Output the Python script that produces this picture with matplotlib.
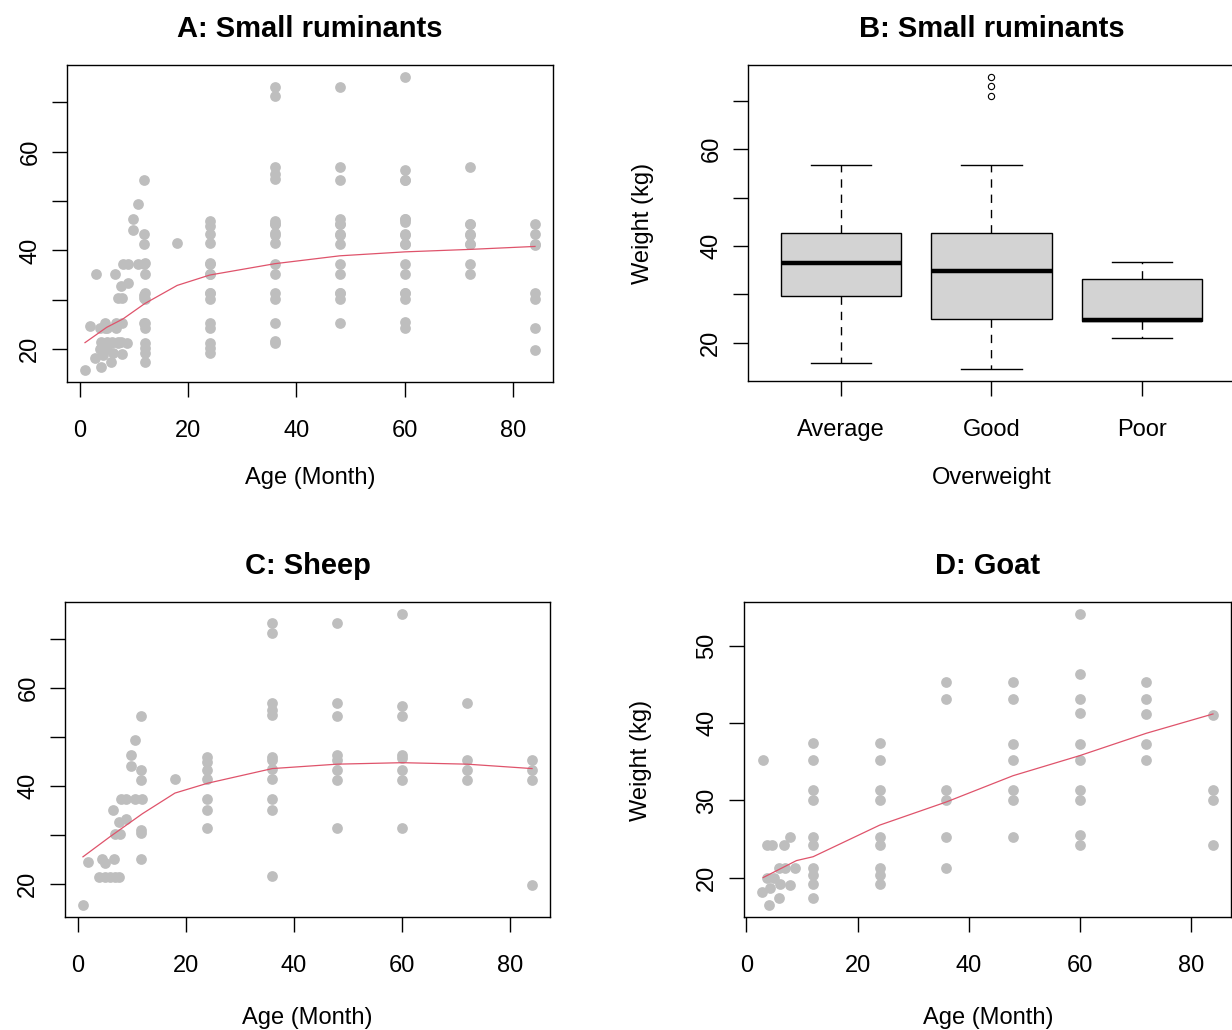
import matplotlib
matplotlib.use("Agg")
import matplotlib.pyplot as plt
import numpy as np

plt.rcParams['font.family'] = ['Liberation Sans', 'DejaVu Sans']

# ---- data ----
# sheep: age (month), weight (kg)
sheep_age = [1, 2, 4, 4.6, 5, 5, 6, 6.5, 6.7, 7, 7, 7.6, 7.6, 7.9, 8,
             8.9, 8.9, 9.8, 9.8, 10.7, 10.7, 11.8, 11.8, 11.8, 11.8, 11.8, 11.8, 11.9,
             18,
             24, 24, 24, 24, 24, 24, 24,
             36, 36, 36, 36, 36, 36, 36, 36, 36, 36, 36, 36,
             48, 48, 48, 48, 48, 48, 48, 48,
             60, 60, 60, 60, 60, 60, 60, 60,
             72, 72, 72, 72,
             84, 84, 84, 84]
sheep_wt = [15.7, 24.6, 21.5, 25.2, 24.3, 21.5, 21.5, 35.2, 25.2, 21.5, 30.3, 21.5, 32.7, 30.3, 37.3,
            37.3, 33.4, 46.3, 44.1, 37.3, 49.4, 54.3, 43.4, 41.2, 31.0, 30.4, 25.2, 37.3,
            41.4,
            46.0, 45.0, 43.4, 41.4, 37.3, 35.2, 31.4,
            73.2, 71.2, 56.9, 55.5, 54.5, 46.0, 45.3, 43.6, 41.4, 37.3, 35.2, 21.6,
            73.2, 57.0, 54.3, 46.3, 45.3, 43.3, 41.2, 31.4,
            75.2, 56.3, 54.3, 46.3, 45.7, 43.3, 41.2, 31.4,
            57.0, 45.4, 43.3, 41.2,
            45.4, 43.3, 41.2, 19.8]

# goat: age (month), weight (kg)
goat_age = [3.0, 4.0, 2.8, 4.3, 3.7, 4.9, 3.7, 4.6, 6.7, 7.9, 5.8, 7.0, 8.8, 6.1, 7.9, 5.8,
            12, 12, 12, 12, 12, 12, 12, 12, 12, 12,
            24, 24, 24, 24, 24, 24, 24, 24, 24,
            36, 36, 36, 36, 36, 36,
            48, 48, 48, 48, 48, 48, 48,
            60, 60, 60, 60, 60, 60, 60, 60, 60, 60,
            72, 72, 72, 72, 72,
            84, 84, 84, 84]
goat_wt = [35.2, 16.4, 18.1, 18.7, 20.0, 20.0, 24.2, 24.2, 24.2, 25.2, 21.3, 21.3, 21.3, 19.2, 19.0, 17.4,
           37.4, 35.3, 31.3, 30.1, 25.2, 24.2, 21.3, 20.3, 19.2, 17.4,
           37.4, 35.3, 31.3, 30.1, 25.2, 24.2, 21.3, 20.3, 19.2,
           45.4, 43.2, 31.3, 30.1, 25.2, 21.3,
           45.4, 43.2, 37.3, 35.3, 31.3, 30.1, 25.2,
           54.2, 46.4, 43.2, 41.3, 37.3, 35.3, 31.3, 30.1, 25.5, 24.2,
           45.4, 43.2, 41.2, 37.3, 35.2,
           41.1, 31.3, 30.1, 24.2]

# smoothed (lowess) curves
all_fit_age = [1, 5, 8, 12, 18, 24, 36, 48, 60, 72, 84]
all_fit_wt = [21.3, 24.4, 26.1, 29.2, 32.9, 35.0, 37.3, 38.9, 39.7, 40.2, 40.8]
sheep_fit_age = [1, 6, 12, 18, 24, 36, 48, 60, 72, 84]
sheep_fit_wt = [25.6, 29.7, 34.4, 38.6, 40.6, 43.6, 44.5, 44.8, 44.5, 43.6]
goat_fit_age = [3, 9, 12, 24, 36, 48, 60, 72, 84]
goat_fit_wt = [20.0, 22.2, 22.7, 26.8, 29.8, 33.2, 35.8, 38.7, 41.2]

# box plot summary: weight by overweight score
ow_groups = ["Average", "Good", "Poor"]
ow_whislo = [15.8, 14.5, 20.9]
ow_q1 = [29.7, 24.8, 24.5]
ow_med = [36.4, 34.9, 24.7]
ow_q3 = [42.6, 42.6, 33.2]
ow_whishi = [56.8, 56.8, 36.6]
ow_fliers = [[], [71.0, 73.0, 75.0], []]

W, H = 1232, 1030
PT_COL = "#BEBEBE"
FIT_COL = "#DF536B"
FS = 17
TFS = 21

fig = plt.figure(figsize=(W / 100, H / 100), dpi=100)


def px_axes(l, t, r, b):
    return fig.add_axes([l / W, 1 - b / H, (r - l) / W, (b - t) / H])


def r_range(vals):
    lo, hi = min(vals), max(vals)
    d = (hi - lo) * 0.04
    return lo - d, hi + d


def style(ax, yticks, ylabels):
    for s in ax.spines.values():
        s.set_linewidth(1.0)
    ax.tick_params(direction='out', length=10.5, width=1.0, labelsize=FS)
    ax.tick_params(axis='x', pad=17)
    ax.tick_params(axis='y', pad=8, labelrotation=90)
    ax.set_yticks(yticks)
    ax.set_yticklabels(ylabels)
    for lab in ax.get_yticklabels():
        lab.set_va('center')


def scatter_panel(ax, x, y, fx, fy, title):
    ax.scatter(x, y, s=60, color=PT_COL, linewidths=0, zorder=2)
    ax.plot(fx, fy, color=FIT_COL, lw=0.9, zorder=3)
    ax.set_xlim(*r_range(x))
    ax.set_ylim(*r_range(y))
    ax.set_xticks([0, 20, 40, 60, 80])
    ax.set_title(title, fontsize=TFS, fontweight='bold', pad=20)


# A: all small ruminants
axA = px_axes(67, 65, 553, 382)
scatter_panel(axA, sheep_age + goat_age, sheep_wt + goat_wt, all_fit_age, all_fit_wt,
              "A: Small ruminants")
style(axA, [20, 30, 40, 50, 60, 70], ["20", "", "40", "", "60", ""])
fig.text(310 / W, 1 - 478 / H, "Age (Month)", ha='center', va='center', fontsize=FS)

# B: box plot
axB = px_axes(748, 65, 1235, 381)
stats = []
for i in range(len(ow_groups)):
    stats.append(dict(label=ow_groups[i], whislo=ow_whislo[i], q1=ow_q1[i], med=ow_med[i],
                      q3=ow_q3[i], whishi=ow_whishi[i], fliers=ow_fliers[i]))
axB.bxp(stats, positions=[1, 2, 3], widths=0.8, capwidths=0.4, patch_artist=True,
        boxprops=dict(facecolor="#D3D3D3", edgecolor="black", linewidth=1.0),
        medianprops=dict(color="black", linewidth=3.2, solid_capstyle='butt'),
        whiskerprops=dict(color="black", linewidth=1.0, linestyle=(0, (6, 5))),
        capprops=dict(color="black", linewidth=1.0),
        flierprops=dict(marker='o', markersize=4.5, markerfacecolor='none',
                        markeredgecolor='black', markeredgewidth=0.8))
all_b = ow_whislo + ow_whishi + sum(ow_fliers, [])
axB.set_xlim(0.38, 3.62)
axB.set_ylim(*r_range(all_b))
axB.set_xticks([1, 2, 3])
axB.set_xticklabels(ow_groups)
axB.set_title("B: Small ruminants", fontsize=TFS, fontweight='bold', pad=20)
style(axB, [20, 30, 40, 50, 60, 70], ["20", "", "40", "", "60", ""])
fig.text(992 / W, 1 - 478 / H, "Overweight", ha='center', va='center', fontsize=FS)
fig.text(643 / W, 1 - 223 / H, "Weight (kg)", ha='center', va='center', rotation=90, fontsize=FS)

# C: sheep
axC = px_axes(65, 602, 550, 917)
scatter_panel(axC, sheep_age, sheep_wt, sheep_fit_age, sheep_fit_wt, "C: Sheep")
style(axC, [20, 30, 40, 50, 60, 70], ["20", "", "40", "", "60", ""])
fig.text(307 / W, 1 - 1018 / H, "Age (Month)", ha='center', va='center', fontsize=FS)

# D: goat
axD = px_axes(744, 602, 1231, 917)
scatter_panel(axD, goat_age, goat_wt, goat_fit_age, goat_fit_wt, "D: Goat")
style(axD, [20, 30, 40, 50], ["20", "30", "40", "50"])
fig.text(988 / W, 1 - 1018 / H, "Age (Month)", ha='center', va='center', fontsize=FS)
fig.text(641 / W, 1 - 760 / H, "Weight (kg)", ha='center', va='center', rotation=90, fontsize=FS)

fig.savefig("out.png", dpi=100)
